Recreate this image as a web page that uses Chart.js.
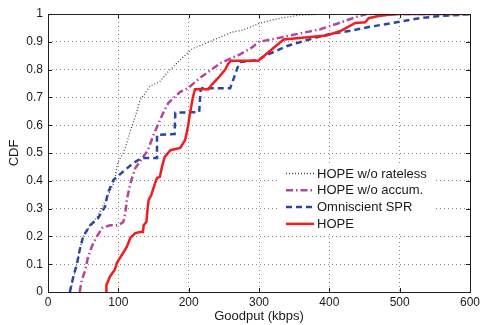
<!DOCTYPE html>
<html>
<head>
<meta charset="utf-8">
<script src="https://cdn.jsdelivr.net/npm/chart.js@4/dist/chart.umd.min.js"></script>
<style>
  body { margin: 0; background: #fff; }
  #wrap { width: 481px; height: 325px; }
</style>
</head>
<body>
<div id="wrap"><canvas id="cdf" width="481" height="325"></canvas></div>
<script>
// tick values
var xTickValues = [0, 100, 200, 300, 400, 500, 600];
var yTickValues = [0, 0.1, 0.2, 0.3, 0.4, 0.5, 0.6, 0.7, 0.8, 0.9, 1];

var seriesNames = ['HOPE w/o rateless', 'HOPE w/o accum.', 'Omniscient SPR', 'HOPE'];

// HOPE w/o rateless (goodput kbps / cdf)
var ratelessX = [32, 36, 41, 45, 50, 60, 70, 78, 86, 93, 96, 98, 100, 107, 112, 117, 124, 131, 145, 159,
    170, 188, 205, 220, 245, 262, 277, 301, 330, 358, 400, 600];
var ratelessY = [0, 0.05, 0.1, 0.15, 0.2, 0.24, 0.27, 0.31, 0.35, 0.39, 0.42, 0.45, 0.47, 0.5, 0.535, 0.58, 0.63, 0.69, 0.74, 0.757,
    0.79, 0.835, 0.875, 0.89, 0.917, 0.935, 0.942, 0.967, 0.985, 0.996, 1, 1];

// HOPE w/o accum.
var accumX = [45, 48, 53, 57, 62, 69, 77, 88, 100, 107, 110, 112, 117, 124, 142, 150, 163, 171, 188, 199,
    216, 245, 273, 290, 300, 330, 358, 387, 411, 439, 453, 600];
var accumY = [0, 0.043, 0.079, 0.126, 0.162, 0.198, 0.23, 0.24, 0.24, 0.252, 0.284, 0.33, 0.39, 0.445, 0.51, 0.565, 0.64, 0.68, 0.72, 0.733,
    0.77, 0.823, 0.855, 0.88, 0.9, 0.915, 0.93, 0.945, 0.965, 0.99, 1, 1];

// Omniscient SPR
var sprX = [31, 36, 41, 45, 50, 60, 71, 81, 85, 93, 98, 110, 121, 133, 155, 155, 180, 181, 215, 217,
    219, 259, 270, 273, 299, 309, 340, 360, 385, 401, 430, 458, 500, 529, 557, 586, 600];
var sprY = [0, 0.055, 0.1, 0.15, 0.2, 0.24, 0.265, 0.306, 0.355, 0.403, 0.414, 0.44, 0.463, 0.482, 0.482, 0.565, 0.568, 0.645, 0.647, 0.727,
    0.733, 0.733, 0.81, 0.827, 0.835, 0.85, 0.885, 0.9, 0.918, 0.928, 0.94, 0.954, 0.972, 0.985, 0.993, 0.997, 1];

// HOPE
var hopeX = [83, 83, 88, 95, 98, 105, 112, 117, 124, 131, 135, 136, 140, 141, 143, 147, 150, 152, 155, 159,
    162, 166, 174, 188, 195, 199, 202, 206, 209, 228, 233, 242, 252, 256, 260, 299, 335, 396, 415, 437,
    451, 456, 470, 485, 500, 600];
var hopeY = [0, 0.025, 0.055, 0.08, 0.105, 0.133, 0.162, 0.194, 0.212, 0.216, 0.216, 0.24, 0.253, 0.284, 0.33, 0.35, 0.374, 0.39, 0.41, 0.414,
    0.45, 0.486, 0.51, 0.518, 0.547, 0.594, 0.645, 0.70, 0.729, 0.729, 0.746, 0.77, 0.80, 0.82, 0.832, 0.832, 0.908, 0.923, 0.938, 0.968,
    0.97, 0.985, 0.993, 0.997, 1, 1];

function toPoints(xs, ys) {
    var pts = [];
    for (var i = 0; i < xs.length; i++) {
        pts.push({ x: xs[i], y: ys[i] });
    }
    return pts;
}

function makeSet(idx, xs, ys, color, width, dash, order) {
    return {
        label: seriesNames[idx],
        data: toPoints(xs, ys),
        borderColor: color,
        borderWidth: width,
        borderDash: dash,
        pointRadius: 0,
        tension: 0,
        fill: false,
        order: order
    };
}

var textColor = '#1a1a1a';
var FONT = '"Liberation Sans", Arial, Helvetica, sans-serif';

// frame box + inward ticks like matlab
var framePlugin = {
    id: 'frame',
    afterDatasetsDraw: function (chart) {
        var ctx = chart.ctx, a = chart.chartArea;
        var xs = chart.scales.x, ys = chart.scales.y;
        ctx.save();
        ctx.strokeStyle = '#1e1e1e';
        ctx.lineWidth = 1;
        ctx.setLineDash([]);
        ctx.strokeRect(a.left + 0.5, a.top + 0.5, a.right - a.left, a.bottom - a.top);
        ctx.beginPath();
        xTickValues.forEach(function (v) {
            var p = Math.round(xs.getPixelForValue(v)) + 0.5;
            ctx.moveTo(p, a.bottom); ctx.lineTo(p, a.bottom - 4);
            ctx.moveTo(p, a.top); ctx.lineTo(p, a.top + 4);
        });
        yTickValues.forEach(function (v) {
            var p = Math.round(ys.getPixelForValue(v)) + 0.5;
            ctx.moveTo(a.left, p); ctx.lineTo(a.left + 4, p);
            ctx.moveTo(a.right, p); ctx.lineTo(a.right - 4, p);
        });
        ctx.stroke();
        ctx.restore();
    }
};

// legend drawn by hand, white box without border
var legendPlugin = {
    id: 'cdfLegend',
    afterDraw: function (chart) {
        var ctx = chart.ctx, a = chart.chartArea;
        var sets = chart.data.datasets;
        var boxL = a.right - 192, boxT = a.top + 149, boxW = 158, boxH = 69;
        ctx.save();
        ctx.fillStyle = '#fff';
        ctx.fillRect(boxL, boxT, boxW, boxH);
        ctx.font = '13px ' + FONT;
        ctx.textBaseline = 'middle';
        ctx.fillStyle = textColor;
        for (var i = 0; i < sets.length; i++) {
            var y = boxT + 10.5 + i * 16.8;
            ctx.beginPath();
            ctx.strokeStyle = sets[i].borderColor;
            ctx.lineWidth = sets[i].borderWidth;
            ctx.setLineDash(sets[i].borderDash || []);
            ctx.moveTo(boxL + 8, y);
            ctx.lineTo(boxL + 36, y);
            ctx.stroke();
            ctx.setLineDash([]);
            ctx.fillText(sets[i].label, boxL + 39, y + 0.5);
        }
        ctx.restore();
    }
};

var ctx = document.getElementById('cdf');
var myChart = new Chart(ctx, {
    type: 'line',
    data: {
        datasets: [
            makeSet(0, ratelessX, ratelessY, '#4c4c4c', 1.3, [1, 2], 3),
            makeSet(1, accumX, accumY, '#b4459f', 2.5, [7, 3, 1.5, 3], 2),
            makeSet(2, sprX, sprY, '#2c46a0', 2.5, [6, 4], 1),
            makeSet(3, hopeX, hopeY, '#f21d1d', 2.5, [], 0)
        ]
    },
    options: {
        responsive: false,
        animation: false,
        events: [],
        layout: { padding: { left: 0, right: 11, top: 14, bottom: 0 } },
        plugins: {
            legend: { display: false },
            tooltip: { enabled: false }
        },
        scales: {
            x: {
                type: 'linear',
                min: 0,
                max: 600,
                afterBuildTicks: function (scale) {
                    scale.ticks = xTickValues.map(function (v) { return { value: v }; });
                },
                afterFit: function (scale) {
                    scale.height = 33;
                    scale.paddingLeft = 0;
                    scale.paddingRight = 0;
                },
                ticks: {
                    color: textColor,
                    font: { size: 12, family: FONT },
                    padding: 3,
                    maxRotation: 0,
                    callback: function (v) { return String(v); }
                },
                grid: { color: '#8a8a8a', lineWidth: 1, drawTicks: false },
                border: { display: false, dash: [1, 3] },
                title: {
                    display: true,
                    text: 'Goodput (kbps)',
                    color: textColor,
                    font: { size: 13, family: FONT },
                    padding: { top: 0, bottom: 1 }
                }
            },
            y: {
                type: 'linear',
                min: 0,
                max: 1,
                afterBuildTicks: function (scale) {
                    scale.ticks = yTickValues.map(function (v) { return { value: v }; });
                },
                afterFit: function (scale) {
                    scale.width = 48;
                    scale.paddingTop = 0;
                    scale.paddingBottom = 0;
                },
                ticks: {
                    color: textColor,
                    font: { size: 12, family: FONT },
                    padding: 5,
                    callback: function (v) { return String(Math.round(v * 10) / 10); }
                },
                grid: { color: '#8a8a8a', lineWidth: 1, drawTicks: false },
                border: { display: false, dash: [1, 3] },
                title: {
                    display: true,
                    text: 'CDF',
                    color: textColor,
                    font: { size: 13, family: FONT },
                    padding: { top: 7, bottom: 0 }
                }
            }
        }
    },
    plugins: [framePlugin, legendPlugin]
});
</script>
</body>
</html>
